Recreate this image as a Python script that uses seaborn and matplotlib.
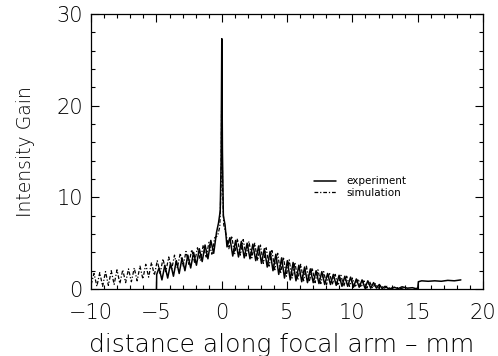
import matplotlib
matplotlib.use("Agg")
import matplotlib.pyplot as plt
import seaborn as sns
from matplotlib.ticker import MultipleLocator

exp_x = [-5.0, -4.98, -4.80, -4.58, -4.36, -4.14, -3.92, -3.70, -3.48, -3.26, -3.04, -2.82,
         -2.60, -2.38, -2.16, -1.94, -1.72, -1.50, -1.28, -1.06, -0.84, -0.62, -0.40, -0.25,
         -0.12, -0.05, 0.0, 0.05, 0.12, 0.25, 0.40, 0.62, 0.84, 1.06, 1.28, 1.50, 1.72, 1.94,
         2.16, 2.38, 2.60, 2.82, 3.04, 3.26, 3.48, 3.70, 3.92, 4.14, 4.36, 4.58, 4.80, 5.02,
         5.24, 5.46, 5.68, 5.90, 6.12, 6.34, 6.56, 6.78, 7.00, 7.22, 7.44, 7.66, 7.88, 8.10,
         8.32, 8.54, 8.76, 8.98, 9.20, 9.42, 9.64, 9.86, 10.08, 10.30, 10.52, 10.74, 10.96,
         11.18, 11.40, 11.62, 11.84, 12.06, 12.28, 12.50, 12.8, 13.2, 13.5, 13.8, 14.2, 14.6,
         14.85, 15.0, 15.05, 15.3, 15.8, 16.3, 16.8, 17.3, 17.8, 18.3]
exp_y = [0.0, 1.6, 2.3, 1.0, 2.6, 1.2, 2.8, 1.4, 3.1, 1.7, 3.4, 2.0,
         3.7, 2.3, 4.0, 2.6, 4.4, 3.0, 4.8, 3.3, 5.3, 3.9, 6.2, 7.2,
         8.5, 14.0, 27.3, 15.0, 8.0, 7.0, 4.6, 5.6, 3.6, 5.3, 3.5, 5.2, 3.4, 5.0,
         3.3, 4.9, 3.1, 4.7, 2.8, 4.4, 2.4, 4.1, 2.0, 3.8, 1.6, 3.4, 1.2, 3.1,
         1.0, 2.9, 0.9, 2.6, 0.8, 2.4, 0.7, 2.2, 0.7, 2.0, 0.6, 1.9, 0.5, 1.7,
         0.5, 1.6, 0.4, 1.5, 0.3, 1.4, 0.3, 1.3, 0.2, 1.1, 0.2, 1.0, 0.1,
         0.9, 0.1, 0.7, 0.1, 0.5, 0.05, 0.3, 0.0, 0.2, 0.05, 0.25, 0.1, 0.15,
         0.05, 0.1, 0.8, 0.9, 0.85, 0.9, 0.85, 0.95, 0.9, 1.0]

# simulated curve
sim_x = [-10.0, -9.78, -9.56, -9.34, -9.12, -8.90, -8.68, -8.46, -8.24, -8.02, -7.80, -7.58,
         -7.36, -7.14, -6.92, -6.70, -6.48, -6.26, -6.04, -5.82, -5.60, -5.38, -5.16, -4.94,
         -4.72, -4.50, -4.28, -4.06, -3.84, -3.62, -3.40, -3.18, -2.96, -2.74, -2.52, -2.30,
         -2.08, -1.86, -1.64, -1.42, -1.20, -0.98, -0.76, -0.54, -0.32, -0.15, -0.06, 0.0,
         0.06, 0.15, 0.32, 0.54, 0.76, 0.98, 1.20, 1.42, 1.64, 1.86, 2.08, 2.30, 2.52, 2.74,
         2.96, 3.18, 3.40, 3.62, 3.84, 4.06, 4.28, 4.50, 4.72, 4.94, 5.16, 5.38, 5.60, 5.82,
         6.04, 6.26, 6.48, 6.70, 6.92, 7.14, 7.36, 7.58, 7.80, 8.02, 8.24, 8.46, 8.68, 8.90,
         9.12, 9.34, 9.56, 9.78, 10.00, 10.22, 10.44, 10.66, 10.88, 11.10, 11.32, 11.54,
         11.76, 11.98, 12.20, 12.42, 12.64, 12.9, 13.3, 13.7, 14.1]
sim_y = [0.5, 1.7, 0.3, 1.8, 0.3, 1.9, 0.4, 2.0, 0.5, 2.1, 0.6, 2.1,
         0.7, 2.2, 0.8, 2.3, 0.9, 2.5, 1.1, 2.7, 1.3, 2.9, 1.5, 3.1,
         1.7, 3.3, 1.9, 3.5, 2.1, 3.7, 2.3, 3.9, 2.5, 4.1, 2.7, 4.3,
         2.9, 4.5, 3.1, 4.8, 3.4, 5.1, 3.8, 5.6, 5.8, 6.8, 11.0, 22.0,
         11.0, 7.0, 6.0, 4.4, 5.8, 3.8, 5.5, 3.7, 5.4, 3.6, 5.2, 3.4, 5.0, 3.1,
         4.8, 2.8, 4.5, 2.5, 4.2, 2.1, 3.9, 1.7, 3.5, 1.4, 3.2, 1.2, 2.9, 1.0,
         2.7, 0.9, 2.5, 0.8, 2.3, 0.7, 2.1, 0.6, 1.9, 0.5, 1.8, 0.5, 1.6, 0.4,
         1.5, 0.3, 1.4, 0.3, 1.2, 0.2, 1.1, 0.2, 0.9, 0.1, 0.8, 0.1,
         0.6, 0.1, 0.4, 0.05, 0.3, 0.05, 0.2, 0.05, 0.2]

sns.set_style("ticks")
plt.rcParams['font.family'] = ['DejaVu Sans']
plt.rcParams['text.color'] = 'black'
plt.rcParams['axes.labelcolor'] = 'black'
plt.rcParams['xtick.color'] = 'black'
plt.rcParams['ytick.color'] = 'black'

fig = plt.figure(figsize=(4.98, 3.56), dpi=100)
ax = fig.add_axes([0.183, 0.188, 0.787, 0.773])

sns.lineplot(x=exp_x, y=exp_y, ax=ax, color="black", lw=1.1, label="experiment",
             estimator=None)
sns.lineplot(x=sim_x, y=sim_y, ax=ax, color="black", lw=0.9, label="simulation",
             estimator=None, linestyle=(0, (3, 1.5, 1, 1.5)))

ax.set_xlim(-10, 20)
ax.set_ylim(0, 30)
ax.xaxis.set_major_locator(MultipleLocator(5))
ax.xaxis.set_minor_locator(MultipleLocator(1))
ax.yaxis.set_major_locator(MultipleLocator(10))
ax.yaxis.set_minor_locator(MultipleLocator(2))
ax.tick_params(which="both", direction="in", top=True, right=True, width=0.8,
               color="black", labelcolor="black")
ax.tick_params(which="major", length=6)
ax.tick_params(which="minor", length=3)
ax.tick_params(axis="x", which="major", pad=10, labelsize=15)
ax.tick_params(axis="y", which="major", pad=6, labelsize=15)
for lab in ax.get_xticklabels() + ax.get_yticklabels():
    lab.set_fontweight("light")
for s in ax.spines.values():
    s.set_linewidth(0.9)
    s.set_color("black")

ax.set_xlabel("distance along focal arm \u2013 mm", fontsize=18, fontweight="light")
ax.xaxis.set_label_coords(0.485, -0.16)
ax.set_ylabel("Intensity Gain", fontsize=13.5, fontweight="light")
ax.yaxis.set_label_coords(-0.143, 0.5)

ax.legend(loc="center left", bbox_to_anchor=(0.569, 0.371), frameon=False,
          fontsize=7.5, handlelength=2.1, handletextpad=1.0, labelspacing=0.15,
          borderpad=0, borderaxespad=0)

fig.savefig("out.png", dpi=100)
